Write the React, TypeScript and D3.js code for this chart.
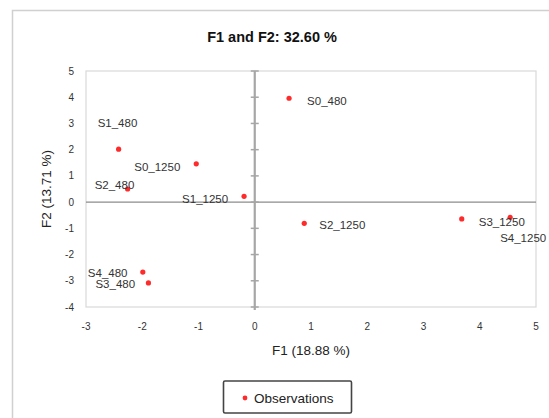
import React from 'react';
import * as d3 from 'd3';

const names = ['S0_480', 'S1_480', 'S2_480', 'S3_480', 'S4_480', 'S0_1250', 'S1_1250', 'S2_1250', 'S3_1250', 'S4_1250'];
const f1 = [0.61, -2.42, -2.26, -1.89, -1.99, -1.04, -0.19, 0.88, 3.68, 4.54];
const f2 = [3.96, 2.02, 0.5, -3.08, -2.67, 1.46, 0.22, -0.81, -0.64, -0.58];
const xTicks = [-3, -2, -1, 0, 1, 2, 3, 4, 5];
const yTicks = [-4, -3, -2, -1, 0, 1, 2, 3, 4, 5];

// label placement relative to its point (px), like the chart's manual positions
const labelDx = [18, -21, -33, -53, -55, -62, -62, 15, 17, -10];
const labelDy = [3, -26, -4, 1, 1, 3, 3, 2, 3, 21];

const font = '"Liberation Sans", Arial, sans-serif';

const App = () => {
    const totalWidth = 549;
    const totalHeight = 418;
    const margin = { top: 71, right: 13, bottom: 111, left: 86 };
    const width = totalWidth - margin.left - margin.right;
    const height = totalHeight - margin.top - margin.bottom;

    const x = d3.scaleLinear().domain([-3, 5]).range([0, width]);
    const y = d3.scaleLinear().domain([-4, 5]).range([height, 0]);

    return (
        <svg width={totalWidth} height={totalHeight} style={{ position: 'absolute', left: 0, top: 0, fontFamily: font }}>
            <rect x={0} y={0} width={totalWidth} height={totalHeight} fill="white" />
            <rect x={12.5} y={10.5} width={600} height={500} fill="none" stroke="#d0d0d0" strokeWidth={1.5} />
            <text x={272} y={42} textAnchor="middle" fontSize={14.5} fontWeight="bold" fill="#111">
                F1 and F2: 32.60 %
            </text>
            <g transform={`translate(${margin.left}, ${margin.top})`}>
                <rect x={0} y={0} width={width} height={height} fill="none" stroke="#d9d9d9" strokeWidth={1.2} />
                {/* horizontal axis at F2 = 0 */}
                <line x1={0} x2={width} y1={y(0)} y2={y(0)} stroke="#8c8c8c" strokeWidth={1.2} />
                {/* vertical axis at F1 = 0 with ticks */}
                <line x1={x(0)} x2={x(0)} y1={0} y2={height + 3} stroke="#a6a6a6" strokeWidth={2.2} />
                {yTicks.map(t => (
                    <line key={t} x1={x(0) - 4} x2={x(0) + 4} y1={y(t)} y2={y(t)} stroke="#a6a6a6" strokeWidth={1.5} />
                ))}
                {yTicks.map(t => (
                    <text key={t} x={-12} y={y(t)} dy="0.35em" textAnchor="end" fontSize={10} fill="#333">
                        {t}
                    </text>
                ))}
                {xTicks.map(t => (
                    <text key={t} x={x(t)} y={height + 23} textAnchor="middle" fontSize={10} fill="#333">
                        {t}
                    </text>
                ))}
                {names.map((n, i) => (
                    <circle key={n} cx={x(f1[i])} cy={y(f2[i])} r={2.6} fill="#ff2a2a" />
                ))}
                {names.map((n, i) => (
                    <text key={n} x={x(f1[i]) + labelDx[i]} y={y(f2[i]) + labelDy[i]} dy="0.35em" fontSize={11.5} fill="#333">
                        {n}
                    </text>
                ))}
                <text x={width / 2} y={height + 48} textAnchor="middle" fontSize={13.5} fill="#222">
                    F1 (18.88 %)
                </text>
                <text transform={`translate(${-35}, ${height / 2}) rotate(-90)`} textAnchor="middle" fontSize={13.5} fill="#222">
                    F2 (13.71 %)
                </text>
            </g>
            <rect x={223.5} y={381} width={128} height={32} fill="white" stroke="#444" strokeWidth={1.6} rx={1.5} />
            <circle cx={245} cy={398} r={2.4} fill="#ff2a2a" />
            <text x={254} y={398} dy="0.35em" fontSize={13.5} fill="#222">
                Observations
            </text>
        </svg>
    );
};

export default App;
